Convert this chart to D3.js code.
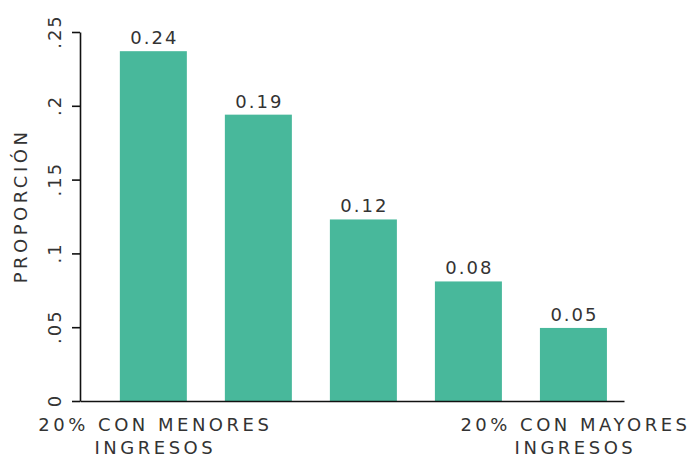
<!DOCTYPE html>
<html>
<head>
<meta charset="utf-8">
<script src="https://cdn.jsdelivr.net/npm/d3@7"></script>
<style>
  body { margin: 0; background: #fff; }
  text { font-family: "DejaVu Sans", sans-serif; fill: #333; }
</style>
</head>
<body>
<div id="chart"></div>
<script>
// data
var categories = ["Q1", "Q2", "Q3", "Q4", "Q5"]
var values = [0.237, 0.194, 0.123, 0.081, 0.0495]
var tickLabels = [["20% CON MENORES", "INGRESOS"], [], [], [], ["20% CON MAYORES", "INGRESOS"]]
var yTicks = [0, 0.05, 0.1, 0.15, 0.2, 0.25]
var yTickLabels = ["0", ".05", ".1", ".15", ".2", ".25"]

var width = 690
    height = 460

var svg = d3.select("#chart")
  .append("svg")
    .attr("width", width)
    .attr("height", height)

var x = d3.scaleBand()
  .domain(categories)
  .range([80, 624])
  .paddingInner(0.362)
  .paddingOuter(0.271)
  .align(0.7)

var y = d3.scaleLinear()
  .domain([0, 0.25])
  .range([401, 32])

// bars
svg.selectAll("rect.bar")
  .data(values)
  .enter()
  .append("rect")
    .attr("class", "bar")
    .attr("x", function(d, i) { return x(categories[i]) })
    .attr("y", function(d) { return y(d) })
    .attr("width", x.bandwidth())
    .attr("height", function(d) { return y(0) - y(d) })
    .attr("fill", "#48b89b")

// value labels on top
svg.selectAll("text.val")
  .data(values)
  .enter()
  .append("text")
    .attr("class", "val")
    .attr("x", function(d, i) { return x(categories[i]) + x.bandwidth() / 2 + 1 })
    .attr("y", function(d) { return y(d) - 7 })
    .attr("text-anchor", "middle")
    .style("font-size", "18px")
    .style("letter-spacing", "2px")
    .text(function(d) { return d3.format(".2f")(d) })

// y axis
var yAxis = svg.append("g")
  .attr("transform", "translate(80,0)")
  .call(d3.axisLeft(y)
    .tickValues(yTicks)
    .tickFormat(function(d, i) { return yTickLabels[i] })
    .tickSize(8)
    .tickSizeOuter(0))

yAxis.selectAll("path, line").attr("stroke", "#111").attr("stroke-width", 1.6)
yAxis.selectAll("text")
  .attr("transform", "rotate(-90)")
  .attr("x", 1)
  .attr("y", -19)
  .attr("dy", 0)
  .attr("text-anchor", "middle")
  .style("font-size", "18px")
  .style("letter-spacing", "2px")
  .style("fill", "#333")

// x axis
var xAxis = svg.append("g")
  .attr("transform", "translate(0,401)")
  .call(d3.axisBottom(x).tickSize(0).tickSizeOuter(0).tickFormat(""))

xAxis.select(".domain").attr("stroke", "#111").attr("stroke-width", 1.6)

var lbl = svg.selectAll("text.cat")
  .data(categories)
  .enter()
  .append("text")
    .attr("class", "cat")
    .attr("text-anchor", "middle")
    .style("font-size", "18px")
    .style("letter-spacing", "3.5px")

lbl.selectAll("tspan")
  .data(function(d, i) { return tickLabels[i].map(function(t) { return {t: t, c: d} }) })
  .enter()
  .append("tspan")
    .attr("x", function(d) { return x(d.c) + x.bandwidth() / 2 + 2 })
    .attr("y", function(d, j) { return 431 + j * 23 })
    .text(function(d) { return d.t })

// y title
svg.append("text")
  .attr("transform", "translate(27,206) rotate(-90)")
  .attr("text-anchor", "middle")
  .style("font-size", "18px")
  .style("letter-spacing", "3.5px")
  .text("PROPORCIÓN")
</script>
</body>
</html>
